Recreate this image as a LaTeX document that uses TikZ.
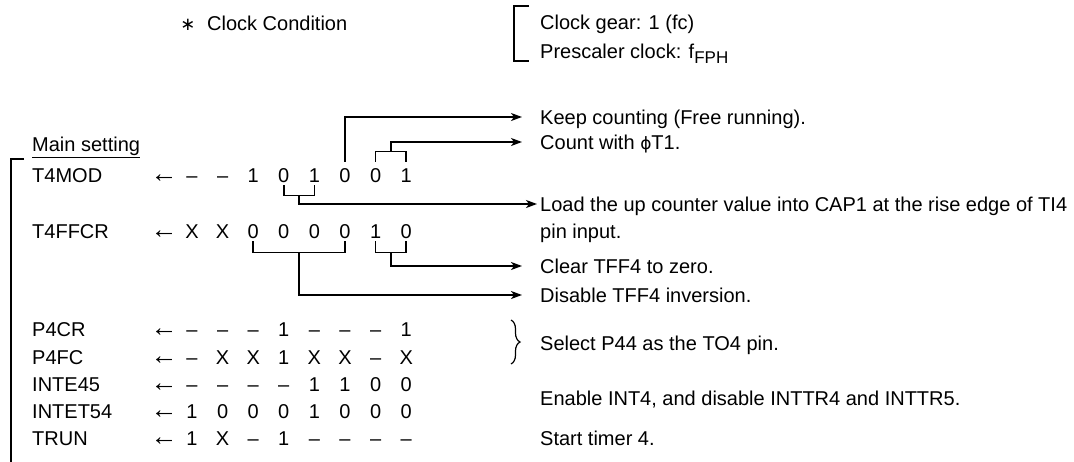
\documentclass[tikz,border=0pt]{standalone}
\usepackage{fontspec}
\setmainfont{Liberation Sans}
\newfontfamily\djv{DejaVu Sans}
\usetikzlibrary{arrows.meta,decorations.pathreplacing,calc}
\tikzset{
  txt/.style={font=\fontsize{20}{24}\selectfont, inner sep=0pt, text height=14.3pt, text depth=0pt},
  lbl/.style={txt, anchor=west},
  bit/.style={txt, anchor=center},
  conn/.style={line width=1.6pt},
  thin/.style={line width=1.2pt},
  arr/.style={conn, -{Stealth[length=11pt,width=8pt,inset=3pt]}, shorten >=18pt},
}
\begin{document}
\begin{tikzpicture}[x=1pt,y=-1pt]
\useasboundingbox (0,0) rectangle (1074,461);
\fill[white] (0,0) rectangle (1074,461);

% clock condition
\node[bit] (ast) at (188,23) {{\djv\fontsize{18}{18}\selectfont ∗}};
\node[lbl] (cc) at (207,23) {Clock Condition};
\node[lbl] (gear) at (540,22) {Clock gear: 1 (fc)};
\node[lbl] (pres) at (540,51) {Prescaler clock: f\raisebox{-5pt}{\fontsize{17}{17}\selectfont FPH}};
\draw[thin] (529,6) -- (514,6) -- (514,61) -- (529,61);

% main setting
\node[lbl] (main) at (32,144) {\underline{Main setting}};
\draw[thin] (24,159) -- (11,159) -- (11,465);

% registers
\foreach \r/\nm/\y/\vals in {
  mod/T4MOD/175/{–,–,1,0,1,0,0,1},
  ffc/T4FFCR/231/{X,X,0,0,0,0,1,0},
  pcr/P4CR/329/{–,–,–,1,–,–,–,1},
  pfc/P4FC/357/{–,X,X,1,X,X,–,X},
  ite/INTE45/384/{–,–,–,–,1,1,0,0},
  itt/INTET54/411/{1,0,0,0,1,0,0,0},
  trn/TRUN/438/{1,X,–,1,–,–,–,–}} {
  \node[lbl] (\r n) at (32,\y) {\nm};
  \node[bit] (\r a) at (164,\y) {{\fontsize{27}{27}\selectfont ←}};
  \foreach \v [count=\i] in \vals {
    \node[bit] (\r\i) at ({192+30.6*(\i-1)},\y) {\v};
  }
}

% right labels
\node[lbl] (keep) at (540,117) {Keep counting (Free running).};
\node[lbl] (count) at (540,142) {Count with {\djv\fontsize{17}{17}\selectfont ϕ}T1.};
\node[lbl] (load) at (540,204) {Load the up counter value into CAP1 at the rise edge of TI4};
\node[lbl] (loadb) at (540,231) {pin input.};
\node[lbl] (clear) at (540,266) {Clear TFF4 to zero.};
\node[lbl] (dis) at (540,295) {Disable TFF4 inversion.};
\node[lbl] (sel) at (540,343) {Select P44 as the TO4 pin.};
\node[lbl] (ena) at (540,398) {Enable INT4, and disable INTTR4 and INTTR5.};
\node[lbl] (start) at (540,438) {Start timer 4.};

% T4MOD connectors
\draw[arr] ($(mod6.north)+(0,-6)$) |- (keep.west);
\draw[conn] ($(mod7.north)+(0,-6)$) |- ($(mod8.north)+(0,-16)$) -- ($(mod8.north)+(0,-6)$);
\draw[arr] ($(mod7.north)!0.5!(mod8.north)+(0,-16)$) |- (count.west);
\draw[conn] ($(mod4.south)+(0,3)$) |- ($(mod5.south)+(0,13)$) -- ($(mod5.south)+(0,3)$);
\draw[arr, shorten >=3pt] ($(mod4.south)!0.5!(mod5.south)+(0,13)$) |- (load.west);

% T4FFCR connectors
\draw[conn] ($(ffc3.south)+(0,3)$) |- ($(ffc6.south)+(0,14)$) -- ($(ffc6.south)+(0,3)$);
\draw[arr] ($(ffc3.south)!0.5!(ffc6.south)+(0,14)$) |- (dis.west);
\draw[conn] ($(ffc7.south)+(0,3)$) |- ($(ffc8.south)+(0,14)$) -- ($(ffc8.south)+(0,3)$);
\draw[arr] ($(ffc7.south)!0.5!(ffc8.south)+(0,14)$) |- (clear.west);

% brace for P4CR / P4FC
\draw[thin, decorate, decoration={brace, amplitude=9pt}] (511,320) -- (511,364);
\end{tikzpicture}
\end{document}
